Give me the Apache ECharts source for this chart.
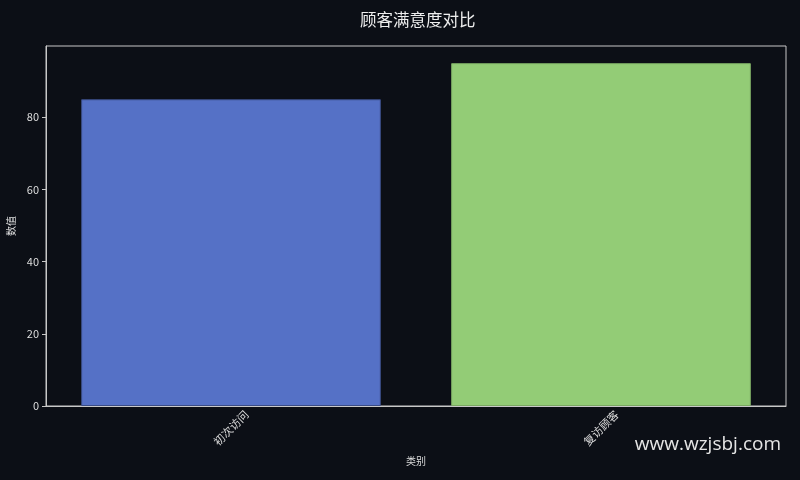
<!DOCTYPE html>
<html>
<head>
<meta charset="utf-8">
<script src="https://cdn.jsdelivr.net/npm/echarts@6/dist/echarts.min.js"></script>
<style>
html,body{margin:0;padding:0;background:#0c0f16;}
#chart{width:800px;height:480px;}
</style>
</head>
<body>
<div id="chart"></div>
<script>
const categories = ['初次访问', '复访顾客'];
const values = [85, 95];
const barColors = ['#5571c6', '#93cc76'];
const barEdges = ['#3a4c85', '#7aa862'];
const yTicks = [0, 20, 40, 60, 80];

const chart = echarts.init(document.getElementById('chart'));
const font = '"Noto Sans CJK SC", "DejaVu Sans", sans-serif';
chart.setOption({
  backgroundColor: '#0c0f16',
  animation: false,
  textStyle: { fontFamily: font },
  title: {
    text: '顾客满意度对比',
    left: 355,
    top: 6,
    textStyle: { color: '#eeeeee', fontSize: 16.5, fontWeight: 'normal', fontFamily: font }
  },
  grid: {
    left: 46, right: 14, top: 46, bottom: 74,
    containLabel: false,
    outerBoundsMode: 'none',
    show: true, borderColor: '#c8c8c8', borderWidth: 1, backgroundColor: 'transparent'
  },
  xAxis: {
    type: 'category',
    data: categories,
    name: '类别',
    nameLocation: 'middle',
    nameGap: 50,
    nameTextStyle: { color: '#dddddd', fontSize: 10 },
    axisLine: { lineStyle: { color: '#c8c8c8', width: 1 } },
    axisTick: { alignWithLabel: true, length: 4, lineStyle: { color: '#c8c8c8' } },
    axisLabel: { rotate: 45, color: '#dddddd', fontSize: 11, margin: 22, align: 'center', verticalAlign: 'middle' },
    splitLine: { show: false }
  },
  yAxis: {
    type: 'value',
    min: 0,
    max: 99.75,
    interval: 20,
    name: '数值',
    nameLocation: 'middle',
    nameGap: 27,
    nameTextStyle: { color: '#dddddd', fontSize: 10 },
    axisLine: { show: true, lineStyle: { color: '#c8c8c8', width: 1 } },
    axisTick: { show: true, length: 4, lineStyle: { color: '#c8c8c8' } },
    axisLabel: {
      color: '#dddddd', fontSize: 11, margin: 7, showMaxLabel: false,
      formatter: v => (yTicks.indexOf(v) >= 0 ? String(v) : '')
    },
    splitLine: { show: false }
  },
  graphic: [{
    type: 'text',
    right: 19,
    top: 435,
    style: { text: 'www.wzjsbj.com', fill: '#e6e6e6', fontSize: 19, fontFamily: '"Open Sans", "DejaVu Sans", sans-serif' }
  }],
  series: [{
    type: 'bar',
    data: values.map((v, i) => ({ value: v, itemStyle: { color: barColors[i], borderColor: barEdges[i], borderWidth: 1 } })),
    barWidth: '81%'
  }]
});
</script>
</body>
</html>
